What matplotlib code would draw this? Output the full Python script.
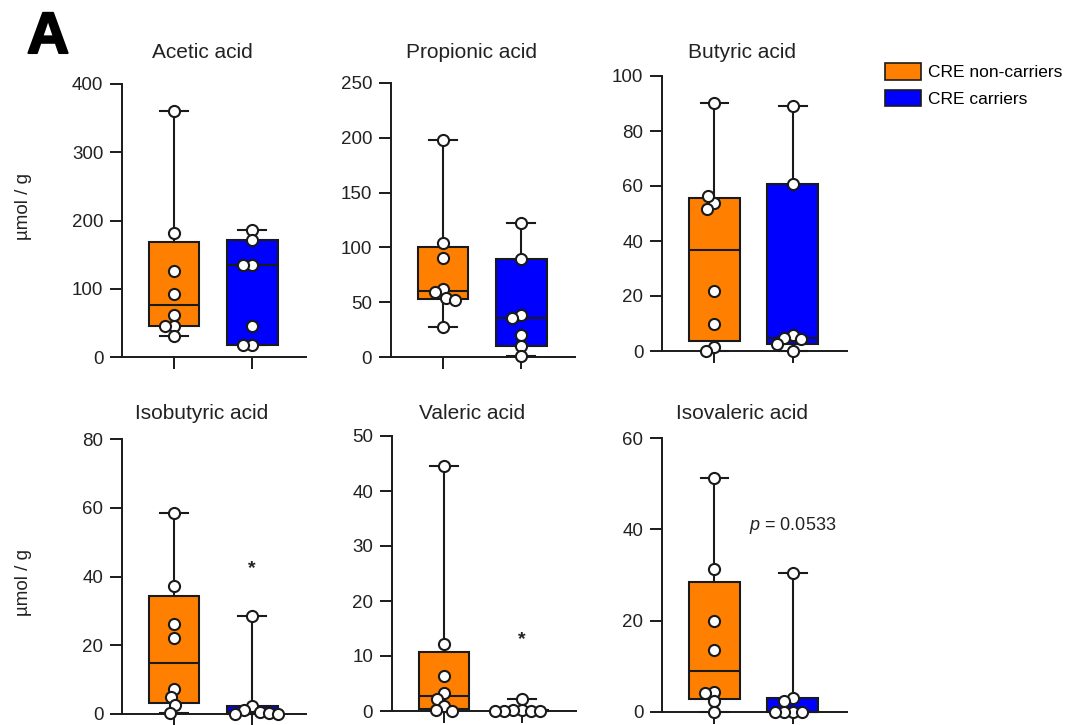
import numpy as np
import matplotlib
matplotlib.use('Agg')
import matplotlib.pyplot as plt
import matplotlib.patheffects as pe
from matplotlib.patches import Patch

plt.rcParams['font.family'] = ['Liberation Sans', 'DejaVu Sans']
plt.rcParams['mathtext.fontset'] = 'custom'
plt.rcParams['mathtext.it'] = 'Liberation Sans:italic'
plt.rcParams['mathtext.rm'] = 'Liberation Sans'

# Datos (µmol / g)
acidos = ['Acetic acid', 'Propionic acid', 'Butyric acid',
          'Isobutyric acid', 'Valeric acid', 'Isovaleric acid']
grupos = ['CRE non-carriers', 'CRE carriers']

acetico_no = [360, 182, 126, 92, 61, 45, 45, 31]
acetico_si = [186, 171, 135, 135, 45, 17, 17]
propionico_no = [198, 104, 90, 62, 59, 54, 52, 27]
propionico_si = [122, 89, 38, 36, 20, 10, 1]
butirico_no = [90.3, 54, 56.3, 51.8, 21.7, 10, 1.5, 0]
butirico_si = [89.1, 60.9, 5.8, 4.9, 4.5, 2.7, 0]
isobutirico_no = [58.4, 37.1, 26.2, 22.1, 7.4, 4.9, 2.5, 0.3]
isobutirico_si = [28.4, 2.2, 1.1, 0.6, 0.3, 0, 0]
valerico_no = [44.6, 12.2, 6.4, 3.3, 2.2, 0.85, 0.2, 0]
valerico_si = [2.2, 0.2, 0.1, 0.05, 0, 0, 0]
isovalerico_no = [51.2, 31.4, 20.0, 13.6, 4.3, 4.15, 2.3, 0]
isovalerico_si = [30.4, 3.1, 2.3, 0, 0, 0, 0]

datos = [(acetico_no, acetico_si), (propionico_no, propionico_si),
         (butirico_no, butirico_si), (isobutirico_no, isobutirico_si),
         (valerico_no, valerico_si), (isovalerico_no, isovalerico_si)]

ymax = [400, 250, 100, 80, 50, 60]
ypaso = [100, 50, 20, 20, 10, 20]

# Anotaciones: panel -> (texto, valor y)
notas = {3: ('*', 42.4), 4: ('*', 12.9), 5: (r'$\it{p}$ = 0.0533', 40.9)}

colors = ['#FF8000', '#0000FF']
negro = '#1a1a1a'

W, H = 1073, 725
fig = plt.figure(figsize=(W / 100, H / 100), dpi=100)

# Rectangulos de los ejes en pixeles (izq, arriba, ancho, alto)
rects = [(122, 84, 184, 273), (391, 83, 184, 274), (662, 76, 185, 275),
         (122, 439, 184, 275), (392, 436, 184, 275), (662, 438, 185, 274)]
titulo_y = [52, 52, 52, 413, 413, 413]

xlim = (0.333, 2.69)
diam = 9.0


def enjambre(vals, ppx, ppy):
    # Distribuye los puntos horizontalmente para que no se encimen.
    puestos = []
    offs = []
    cands = sorted(np.arange(-30, 30.5, 0.5), key=abs)
    for v in vals:
        y = v * ppy
        for c in cands:
            if all((c - px) ** 2 + (y - py) ** 2 >= diam ** 2 for px, py in puestos):
                break
        puestos.append((c, y))
        offs.append(c / ppx)
    return np.array(offs)


for i in range(len(acidos)):
    l, t, w, h = rects[i]
    ax = fig.add_axes([l / W, 1 - (t + h) / H, w / W, h / H])
    ppx = w / (xlim[1] - xlim[0])
    ppy = h / ymax[i]

    stats = []
    for serie in datos[i]:
        v = np.array(serie, dtype=float)
        q1, med, q3 = np.percentile(v, [25, 50, 75], method='weibull')
        stats.append({'q1': q1, 'med': med, 'q3': q3,
                      'whislo': v.min(), 'whishi': v.max(), 'fliers': []})

    bp = ax.bxp(stats, positions=[1, 2], widths=0.65, capwidths=0.35,
                patch_artist=True, showfliers=False, manage_ticks=False,
                boxprops=dict(edgecolor=negro, linewidth=1.5),
                medianprops=dict(color=negro, linewidth=1.5),
                whiskerprops=dict(color=negro, linewidth=1.5),
                capprops=dict(color=negro, linewidth=1.5))
    for caja, c in zip(bp['boxes'], colors):
        caja.set_facecolor(c)
    for linea in bp['whiskers'] + bp['caps'] + bp['medians']:
        linea.set_clip_on(False)
    for caja in bp['boxes']:
        caja.set_clip_on(False)

    for k, serie in enumerate(datos[i]):
        v = np.array(serie, dtype=float)
        x = (k + 1) + enjambre(v, ppx, ppy)
        ax.plot(x, v, 'o', ms=8, mfc='white', mec=negro, mew=1.5,
                clip_on=False, zorder=5)

    ax.set_xlim(*xlim)
    ax.set_ylim(0, ymax[i])
    ax.set_yticks(np.arange(0, ymax[i] + 1, ypaso[i]))
    ax.set_xticks([1, 2])
    ax.set_xticklabels([])
    ax.spines['top'].set_visible(False)
    ax.spines['right'].set_visible(False)
    for s in ['left', 'bottom']:
        ax.spines[s].set_linewidth(1.4)
        ax.spines[s].set_color(negro)
    ax.tick_params(axis='both', length=8.5, width=1.4, color=negro,
                   labelsize=13.5, labelcolor='#222222', pad=5)

    fig.text((l + 80) / W, 1 - titulo_y[i] / H, acidos[i], ha='center',
             va='center', fontsize=15, color='#222222')

    if i in notas:
        txt, yv = notas[i]
        if txt == '*':
            ax.text(2, yv, txt, ha='center', va='center', fontsize=14,
                    fontweight='bold', color='#222222')
        else:
            ax.text(2, yv, txt, ha='center', va='center', fontsize=13,
                    color='#222222')

# Etiquetas del eje y
fig.text(24 / W, 1 - 207 / H, 'µmol / g', rotation=90, ha='center',
         va='center', fontsize=13.5, color='#222222')
fig.text(24 / W, 1 - 583 / H, 'µmol / g', rotation=90, ha='center',
         va='center', fontsize=13.5, color='#222222')

# Letra del panel
fig.text(27 / W, 1 - 53 / H, 'A', fontsize=42, fontweight='bold',
         ha='left', va='baseline', color='black',
         path_effects=[pe.withStroke(linewidth=1.5, foreground='black')])

# Leyenda
handles = [Patch(facecolor=c, edgecolor=negro, linewidth=1.2) for c in colors]
fig.legend(handles, grupos, loc='upper left',
           bbox_to_anchor=(885 / W, 1 - 63 / H), frameon=False,
           fontsize=12.5, handlelength=2.07, handleheight=1.09,
           handletextpad=0.4, labelspacing=0.55, borderpad=0,
           borderaxespad=0)

fig.savefig('out.png', dpi=100)
